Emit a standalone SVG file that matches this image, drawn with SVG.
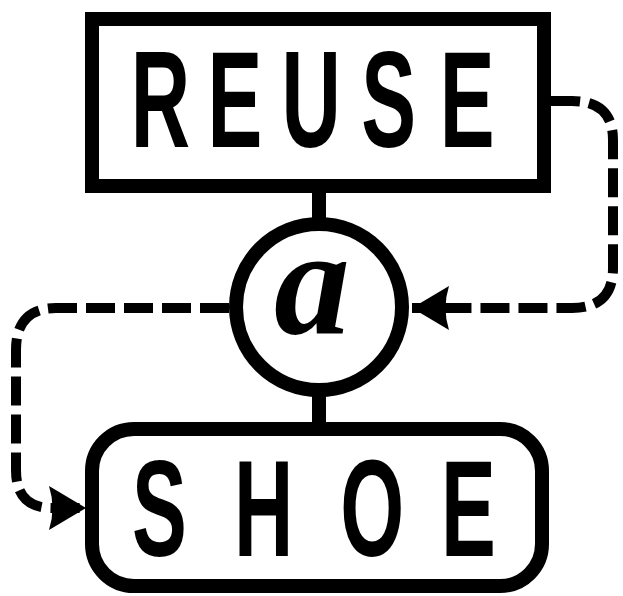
<svg xmlns="http://www.w3.org/2000/svg" width="623" height="596" viewBox="0 0 623 596">
<style>
.node{fill:#fff;stroke:#000;stroke-width:14}
.lbl{font-family:"Liberation Sans",Arial,sans-serif;font-weight:bold;font-size:137px;fill:#000}
.solid{stroke:#000;stroke-width:14;fill:none}
.dash{stroke:#000;stroke-width:10;fill:none;stroke-dasharray:29 9}
</style>
<defs>
<marker id="arr" markerUnits="userSpaceOnUse" markerWidth="40" markerHeight="48" viewBox="-38 -24 40 48" refX="0" refY="0" orient="auto">
<path d="M0,0 L-37,-22 Q-30,0 -37,22 Z" fill="#000"/>
</marker>
</defs>
<g id="connectors">
<path class="solid" d="M319,193 V226"/>
<path class="solid" d="M319,390 V425"/>
<path class="dash" d="M551,101 H572 Q613,101 613,140 V268 Q613,308 572,308 H412" marker-end="url(#arr)"/>
<path class="dash" d="M229,308 H56 Q16,308 16,350 V470 Q16,508 52,508 H86" marker-end="url(#arr)"/>
</g>
<g id="reuse">
<rect class="node" x="92" y="19" width="452" height="167"/>
<g transform="scale(0.6,1)">
<text class="lbl" x="218 346 469 602 733" y="147">REUSE</text>
</g>
</g>
<g id="a">
<circle class="node" cx="319" cy="307" r="83"/>
<text x="312" y="333" text-anchor="middle" font-family="Liberation Serif,Times New Roman,serif" font-style="italic" font-weight="bold" font-size="152">a</text>
</g>
<g id="shoe">
<rect class="node" x="92" y="429" width="450" height="157" rx="42"/>
<g transform="scale(0.6,1)">
<text class="lbl" x="220 390 567 735" y="556">SHOE</text>
</g>
</g>
</svg>
